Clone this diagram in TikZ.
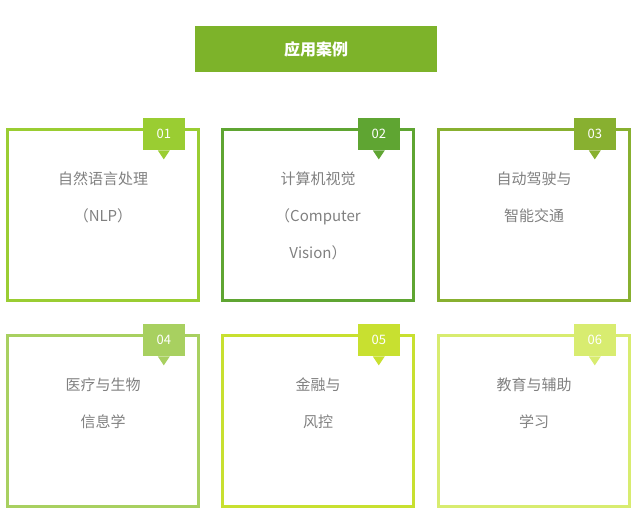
\documentclass[tikz,border=0pt]{standalone}
\usepackage{fontspec}
\setmainfont{Noto Sans CJK SC}
\usetikzlibrary{positioning}
\definecolor{titleColor}{HTML}{7DB32A}
\definecolor{cA}{HTML}{9ACD32}
\definecolor{cB}{HTML}{5FA532}
\definecolor{cC}{HTML}{88B030}
\definecolor{cD}{HTML}{A8D060}
\definecolor{cE}{HTML}{C8E030}
\definecolor{cF}{HTML}{D8EC70}
\definecolor{txtColor}{HTML}{808080}
\tikzset{
	casebox/.style={draw=#1, line width=3pt, minimum width=191pt, minimum height=171pt, inner sep=0},
	tagbox/.style={fill=#1, text=white, minimum width=42pt, minimum height=32pt, inner sep=0, font=\fontsize{13}{13}\selectfont},
	casetext/.style={text=txtColor, align=center, font=\fontsize{15}{37}\selectfont}
}
\newcommand{\casecard}[5]{%
	\node[casebox=#3] (b#1) at (#2) {};
	\node[tagbox=#3, anchor=north east] (t#1) at ([xshift=-15pt,yshift=10pt]b#1.north east) {#4};
	\fill[#3] ([xshift=-6pt]t#1.south) -- ([xshift=6pt]t#1.south) -- ([yshift=-9pt]t#1.south) -- cycle;
	\node[casetext, anchor=north] (l#1) at ([yshift=-40pt]b#1.north) {#5};
}
\begin{document}
\begin{tikzpicture}[x=1pt,y=-1pt]
	\useasboundingbox (0,0) rectangle (636,514);
	\node[fill=titleColor, text=white, minimum width=242pt, minimum height=46pt, font=\bfseries\fontsize{16}{16}\selectfont] (title) at (316,49) {应用案例};
	\casecard{1}{103,215}{cA}{01}{自然语言处理\\（NLP）}
	\casecard{2}{318,215}{cB}{02}{计算机视觉\\（Computer\\Vision）}
	\casecard{3}{534,215}{cC}{03}{自动驾驶与\\智能交通}
	\casecard{4}{103,421}{cD}{04}{医疗与生物\\信息学}
	\casecard{5}{318,421}{cE}{05}{金融与\\风控}
	\casecard{6}{534,421}{cF}{06}{教育与辅助\\学习}
\end{tikzpicture}
\end{document}
